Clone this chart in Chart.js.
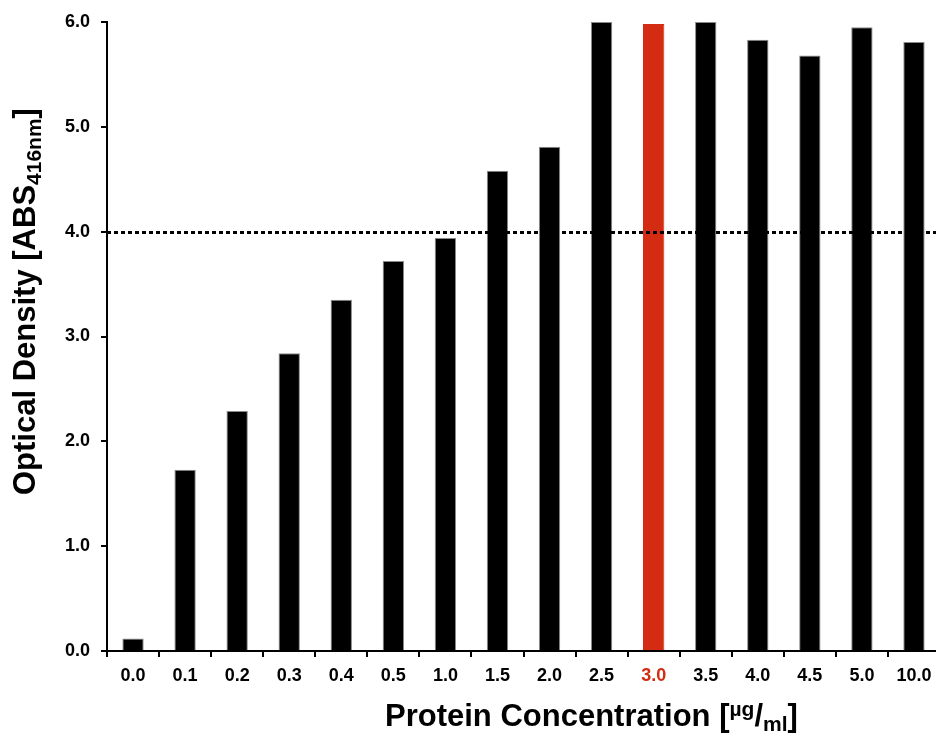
<!DOCTYPE html>
<html>
<head>
<meta charset="utf-8">
<style>
  html, body { margin: 0; padding: 0; background: #fff; overflow: hidden; }
  #wrap { width: 936px; height: 733px; overflow: hidden; }
</style>
<script src="https://cdn.jsdelivr.net/npm/chart.js@4.4.1/dist/chart.umd.min.js"></script>
</head>
<body>
<div id="wrap"><canvas id="cnv" width="940" height="733"></canvas></div>
<script>
// ---- data ----
const concentrations = ['0.0','0.1','0.2','0.3','0.4','0.5','1.0','1.5','2.0','2.5','3.0','3.5','4.0','4.5','5.0','10.0'];
const absorbance     = [0.12, 1.73, 2.29, 2.84, 3.35, 3.72, 3.94, 4.58, 4.81, 6.0, 5.98, 6.0, 5.83, 5.68, 5.95, 5.81];
const highlightLabel = '3.0';
const threshold      = 4.0;
const yTicks         = [0.0, 1.0, 2.0, 3.0, 4.0, 5.0, 6.0];

const RED   = '#D42B13';
const FONT  = '"Liberation Sans", Arial, Helvetica, sans-serif';
const isHi  = i => concentrations[i] === highlightLabel;

// ---- draws rich text (sub / superscripts) along a line ----
const drawRich = (ctx, parts) => {
  let x = 0;
  parts.forEach(p => {
    ctx.font = `bold ${p.size}px ${FONT}`;
    ctx.fillText(p.t, x, p.dy || 0);
    x += ctx.measureText(p.t).width;
  });
};

const extras = {
  id: 'extras',
  afterDatasetsDraw(chart) {
    const { ctx, chartArea, scales: { y } } = chart;
    // dotted threshold line
    const yy = Math.round(y.getPixelForValue(threshold)) + 0.5;
    ctx.save();
    ctx.strokeStyle = '#000';
    ctx.lineWidth = 3;
    ctx.setLineDash([4, 3]);
    ctx.beginPath();
    ctx.moveTo(chartArea.left, yy);
    ctx.lineTo(chartArea.right, yy);
    ctx.stroke();
    ctx.restore();
  },
  afterDraw(chart) {
    const { ctx } = chart;
    ctx.save();
    ctx.fillStyle = '#000';
    ctx.textBaseline = 'alphabetic';
    ctx.textAlign = 'left';
    // x title
    ctx.save();
    ctx.translate(385, 726);
    drawRich(ctx, [
      { t: 'Protein Concentration [', size: 31 },
      { t: 'µg', size: 21, dy: -10 },
      { t: '/', size: 31 },
      { t: 'ml', size: 21, dy: 5 },
      { t: ']', size: 31 }
    ]);
    ctx.restore();
    // y title
    ctx.save();
    ctx.translate(35, 495);
    ctx.rotate(-Math.PI / 2);
    drawRich(ctx, [
      { t: 'Optical Density [ABS', size: 31 },
      { t: '416nm', size: 21, dy: 6 },
      { t: ']', size: 31 }
    ]);
    ctx.restore();
    ctx.restore();
  }
};

new Chart('cnv', {
  type: 'bar',
  data: {
    labels: concentrations,
    datasets: [{
      data: absorbance,
      backgroundColor: absorbance.map((v, i) => isHi(i) ? RED : '#000'),
      borderColor: absorbance.map((v, i) => isHi(i) ? RED : '#8a8a8a'),
      borderWidth: 1,
      categoryPercentage: 1.0,
      barPercentage: 0.41
    }]
  },
  options: {
    responsive: false,
    animation: false,
    layout: { padding: { top: 22, right: 0, left: 0, bottom: 0 } },
    plugins: { legend: { display: false }, tooltip: { enabled: false } },
    scales: {
      x: {
        offset: true,
        grid: { offset: true, drawOnChartArea: false, drawTicks: true, tickLength: 6, color: '#000', lineWidth: 2 },
        border: { display: true, color: '#000', width: 2 },
        ticks: {
          padding: 8,
          color: c => isHi(c.index) ? RED : '#000',
          font: { family: FONT, size: 18, weight: 'bold' },
          maxRotation: 0, autoSkip: false
        },
        afterFit: s => { s.height = 82; }
      },
      y: {
        min: 0, max: 6,
        afterBuildTicks: s => { s.ticks = yTicks.map(v => ({ value: v })); },
        grid: { drawOnChartArea: false, drawTicks: true, tickLength: 6, color: '#000', lineWidth: 2 },
        border: { display: true, color: '#000', width: 2 },
        ticks: {
          padding: 11,
          color: '#000',
          font: { family: FONT, size: 18, weight: 'bold' },
          callback: v => Number(v).toFixed(1)
        },
        afterFit: s => { s.width = 107; }
      }
    }
  },
  plugins: [extras]
});
</script>
</body>
</html>
